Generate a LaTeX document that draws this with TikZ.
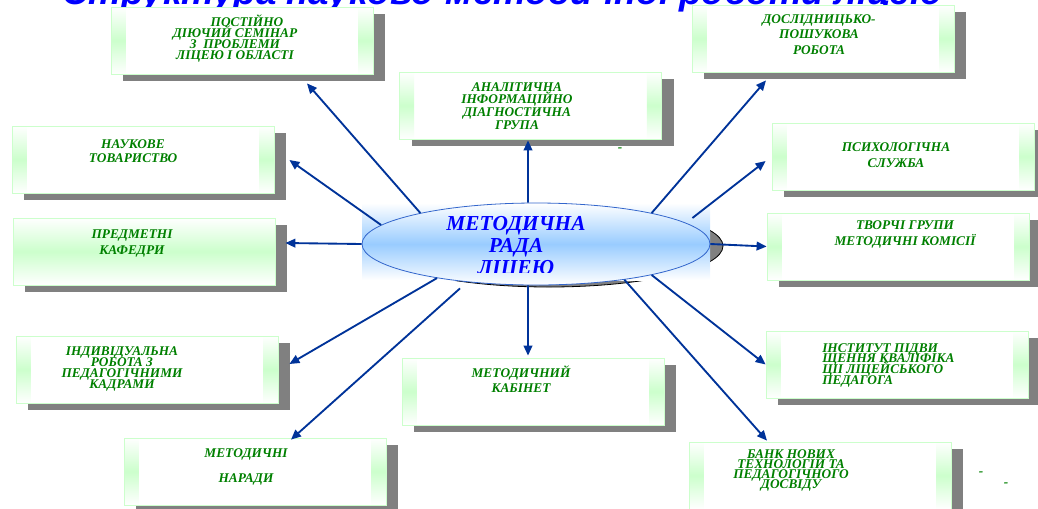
\documentclass[tikz,border=0pt]{standalone}
\usepackage{fontspec}
\setmainfont{Liberation Serif}
\newfontfamily\titlefont{Liberation Sans}
\usetikzlibrary{shapes.geometric,shadows,calc,arrows.meta}

\definecolor{textgreen}{RGB}{0,128,0}
\definecolor{arrowblue}{RGB}{0,51,153}
\definecolor{radablue}{RGB}{153,204,255}
\definecolor{radaline}{RGB}{51,102,204}
\definecolor{stripgreen}{RGB}{204,255,204}

\tikzset{
  panel/.style={draw=stripgreen, fill=white, line width=0.6pt, inner sep=0pt,
    minimum width=196.5pt, minimum height=50.25pt,
    drop shadow={shadow xshift=9pt, shadow yshift=-5.25pt, fill=gray, opacity=1},
    path picture={
      \fill[top color=white, bottom color=white, middle color=stripgreen]
        (path picture bounding box.south west) rectangle ([xshift=11pt]path picture bounding box.north west);
      \fill[top color=white, bottom color=white, middle color=stripgreen]
        ([xshift=-11pt]path picture bounding box.south east) rectangle (path picture bounding box.north east);
    }},
  bandpanel/.style={draw=stripgreen, line width=0.6pt, inner sep=0pt,
    minimum width=196.5pt, minimum height=50.25pt,
    top color=white, bottom color=white, middle color=stripgreen,
    drop shadow={shadow xshift=9pt, shadow yshift=-5.25pt, fill=gray, opacity=1}},
  txt/.style={text=textgreen, inner sep=0pt, align=center, anchor=base,
    font={\bfseries\itshape\fontsize{10}{#1}\selectfont},
    execute at begin node={\lineskiplimit=-20pt\relax}},
  link/.style={draw=arrowblue, line width=1.4pt, -{Triangle[length=7.5pt,width=6.5pt]}}
}

\begin{document}
\begin{tikzpicture}[x=0.75pt,y=-0.75pt]
  \useasboundingbox (0,0) rectangle (1038,508);

  % Paso 1: Titulo (cortado por el borde superior)
  \node[anchor=base, inner sep=0pt, text=blue, font={\titlefont\bfseries\itshape\fontsize{27.5}{30}\selectfont}]
    (titel) at (502,4) {Структура науково-методичної роботи ліцею};

  % Paso 2: Cajas alrededor del centro
  \node[panel] (sem) at (242,40.5) {};
  \node[panel] (tov) at (143,159.5) {};
  \node[panel] (grupa) at (530.5,105.5) {};
  \node[panel] (posh) at (823,38.5) {};
  \node[panel] (psyh) at (903,156.5) {};
  \node[bandpanel] (kaf) at (144,251.5) {};
  \node[panel] (tvor) at (898,246.5) {};
  \node[panel] (indyv) at (147,369.5) {};
  \node[panel] (inst) at (897,364.5) {};
  \node[panel] (kab) at (533,391.5) {};
  \node[panel] (nar) at (255,471.5) {};
  \node[panel] (bank) at (820,475.5) {};

  % Paso 3: Textos de las cajas (el ancla base es la ultima linea)
  \node[txt=8.25pt] (sem-t) at (235,59) {\hspace*{18pt}ПОСТІЙНО\\ДІЮЧИЙ СЕМІНАР\\З~~ПРОБЛЕМИ\\ЛІЦЕЮ І ОБЛАСТІ};
  \node[txt=10.5pt] (tov-t) at (133,162) {НАУКОВЕ\\ТОВАРИСТВО};
  \node[txt=9.5pt] (grupa-t) at (517,129) {АНАЛІТИЧНА\\ІНФОРМАЦІЙНО\\ДІАГНОСТИЧНА\\ГРУПА};
  \node[txt=11.6pt] (posh-t) at (819,54) {ДОСЛІДНИЦЬКО-\\ПОШУКОВА\\РОБОТА};
  \node[txt=12pt] (psyh-t) at (896,167) {ПСИХОЛОГІЧНА\\СЛУЖБА};
  \node[txt=12pt] (kaf-t) at (132,254) {ПРЕДМЕТНІ\\КАФЕДРИ};
  \node[txt=12pt] (tvor-t) at (905,245) {ТВОРЧІ ГРУПИ\\МЕТОДИЧНІ КОМІСІЇ};
  \node[txt=8.25pt] (indyv-t) at (122,388) {ІНДИВІДУАЛЬНА\\РОБОТА З\\ПЕДАГОГІЧНИМИ\\КАДРАМИ};
  \node[txt=8pt, align=left, anchor=base west] (inst-t) at (822,384) {ІНСТИТУТ ПІДВИ\\ЩЕННЯ КВАЛІФІКА\\ЦІІ ЛІЦЕЙСЬКОГО\\ПЕДАГОГА};
  \node[txt=11.25pt] (kab-t) at (521,392) {МЕТОДИЧНИЙ\\КАБІНЕТ};
  \node[txt=18.75pt] (nar-t) at (246,482) {МЕТОДИЧНІ\\НАРАДИ};
  \node[txt=7.3pt] (bank-t) at (791,488) {БАНК НОВИХ\\ТЕХНОЛОГІЙ ТА\\ПЕДАГОГІЧНОГО\\ДОСВІДУ};

  % Paso 4: Guiones sueltos
  \node[txt=12pt] (d1) at (620,151) {-};
  \node[txt=12pt] (d2) at (981,475) {-};
  \node[txt=12pt] (d3) at (1006,486) {-};

  % Paso 5: Sombra, fondo y elipse central
  \draw[black, fill=gray, line width=0.6pt] (549,246) ellipse [x radius=174, y radius=41];
  \fill[top color=white, bottom color=white, middle color=radablue] (362,203) rectangle (710,280);
  \node[ellipse, draw=radaline, line width=0.6pt, inner sep=0pt,
    minimum width=261pt, minimum height=61.5pt,
    top color=white, bottom color=white, middle color=radablue] (rada) at (536,244) {};
  \begin{scope}
    \clip (362,203) rectangle (710,272);
    \node[text=blue, inner sep=0pt, align=center, anchor=base,
      font={\bfseries\itshape\fontsize{16}{16.5}\selectfont}] (rada-t) at (516,274) {МЕТОДИЧНА\\РАДА\\ЛІЦЕЮ};
  \end{scope}

  % Paso 6: Flechas desde la elipse
  \draw[link] (rada.165) -- ($(sem.south)+(65,9)$);
  \draw[link] (rada.173) -- ($(tov.east)+(15,0.5)$);
  \draw[link] (rada.101) -- ($(grupa.south)+(-2.5,1)$);
  \draw[link] (rada.15.5) -- ($(posh.south)+(-57,8)$);
  \draw[link] ($(rada.east)+(-18,-26)$) -- ($(psyh.west)+(-6,4.5)$);
  \draw[link] (rada.east) -- (tvor.west);
  \draw[link] (rada.-15.3) -- (inst.west);
  \draw[link] (rada.-22.5) -- ($(bank.north)+(-53,-1)$);
  \draw[link] (rada.-101) -- ($(kab.north)+(-5,-2)$);
  \draw[link] ($(rada.south)+(-76,3)$) -- ($(nar.north)+(36,2)$);
  \draw[link] (rada.199.6) -- ($(indyv.east)+(11,-5.5)$);
  \draw[link] (rada.west) -- ($(kaf.east)+(10,-8.5)$);
\end{tikzpicture}
\end{document}
